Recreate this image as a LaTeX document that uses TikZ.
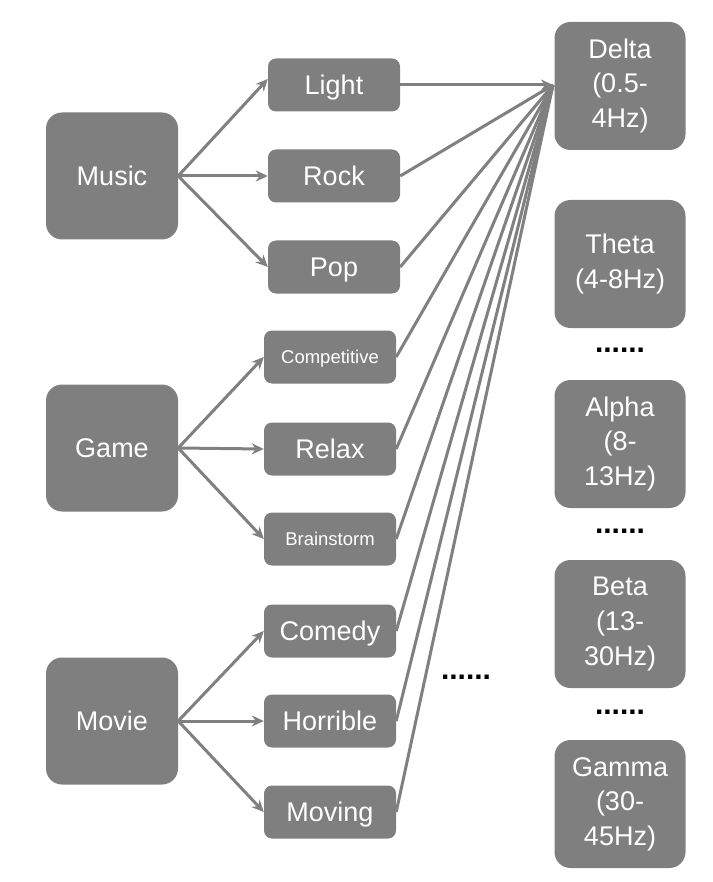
\documentclass[tikz,border=0pt]{standalone}
\usepackage{fontspec}
\setmainfont{Liberation Sans}
\usepackage{tikz}
\usepackage{xcolor}
\usetikzlibrary{arrows,arrows.meta,positioning}
\definecolor{boxgray}{RGB}{127, 127, 127}
\definecolor{linegray}{RGB}{128, 128, 128}
\tikzstyle{arrow} = [
    line width=3pt,
    -{Stealth[length=12pt,width=11pt]},
    draw=linegray
]
\tikzstyle{link} = [
    line width=3pt,
    draw=linegray
]
\tikzstyle{source} = [
    rectangle,
    rounded corners=16pt,
    minimum width=132pt,
    minimum height=127pt,
    text centered,
    text depth=0pt,
    fill=boxgray,
    text=white,
    font=\fontsize{27}{30}\selectfont
]
\tikzstyle{genre} = [
    rectangle,
    rounded corners=8pt,
    minimum width=132pt,
    minimum height=53pt,
    text centered,
    text depth=0pt,
    fill=boxgray,
    text=white,
    font=\fontsize{27}{30}\selectfont
]
\tikzstyle{band} = [
    rectangle,
    rounded corners=16pt,
    minimum width=131pt,
    minimum height=128pt,
    align=center,
    fill=boxgray,
    text=white,
    font=\fontsize{27}{34.5}\selectfont
]
\tikzstyle{more} = [
    font=\fontsize{30}{30}\selectfont\bfseries
]

\begin{document}
\begin{tikzpicture}[x=1pt, y=-1pt]
    \useasboundingbox (0,0) rectangle (712,882);
    % sources
    \node[source] (music) at (112,176) {Music};
    \node[source] (game) at (112,448) {Game};
    \node[source] (movie) at (112,721) {Movie};
    % genres
    \node[genre] (light) at (334,85) {Light};
    \node[genre] (rock) at (334,176) {Rock};
    \node[genre] (pop) at (334,267) {Pop};
    \node[genre, font=\fontsize{18.5}{22}\selectfont] (competitive) at (330,357) {Competitive};
    \node[genre] (relax) at (330,449) {Relax};
    \node[genre, font=\fontsize{18.5}{22}\selectfont] (brainstorm) at (330,539) {Brainstorm};
    \node[genre] (comedy) at (330,631) {Comedy};
    \node[genre] (horrible) at (330,721) {Horrible};
    \node[genre] (moving) at (330,812) {Moving};
    % bands
    \node[band] (delta) at (620,86) {Delta\\(0.5-\\4Hz)};
    \node[band] (theta) at (620,264) {Theta\\(4-8Hz)};
    \node[band] (alpha) at (620,444) {Alpha\\(8-\\13Hz)};
    \node[band] (beta) at (620,624) {Beta\\(13-\\30Hz)};
    \node[band] (gamma) at (620,804) {Gamma\\(30-\\45Hz)};
    \node[more] (dots1) at (620,350) {......};
    \node[more] (dots2) at (620,531) {......};
    \node[more] (dots3) at (620,712) {......};
    \node[more] (dots4) at (466,677) {......};
    \coordinate (deltain) at (553,85);
    % edges
    \draw[arrow] (music.east) -- ([yshift=6pt]light.west);
    \draw[arrow] (music.east) -- (rock.west);
    \draw[arrow] (music.east) -- (pop.west);
    \draw[arrow] (game.east) -- (competitive.west);
    \draw[arrow] (game.east) -- (relax.west);
    \draw[arrow] (game.east) -- (brainstorm.west);
    \draw[arrow] (movie.east) -- (comedy.west);
    \draw[arrow] (movie.east) -- (horrible.west);
    \draw[arrow] (movie.east) -- (moving.west);
    \foreach \g in {rock,pop,competitive,relax,brainstorm,comedy,horrible,moving}
        \draw[link] (\g.east) -- (deltain);
    \draw[arrow] (light.east) -- (deltain);
\end{tikzpicture}
\end{document}
